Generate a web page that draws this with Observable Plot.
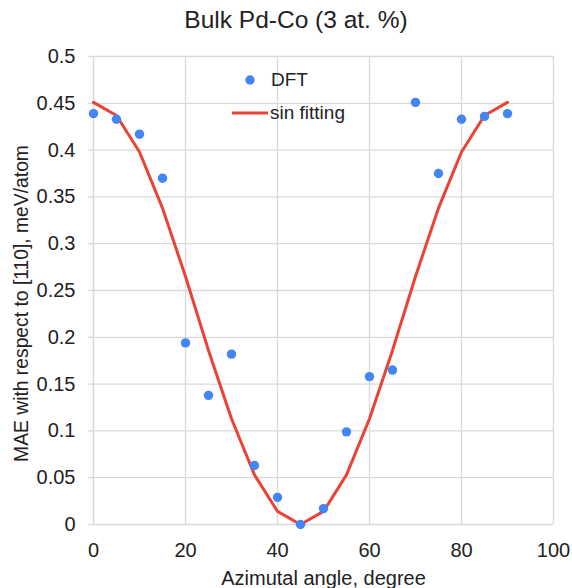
<!DOCTYPE html>
<html>
<head>
<meta charset="utf-8">
<script src="https://cdn.jsdelivr.net/npm/d3@7"></script>
<script src="https://cdn.jsdelivr.net/npm/@observablehq/plot@0.6"></script>
<style>
  html, body { margin: 0; padding: 0; background: #fff; }
  #wrap { position: relative; width: 572px; height: 588px; overflow: hidden; font-family: "Liberation Sans", Arial, sans-serif; color: #222; }
  #title { height: 36px; box-sizing: border-box; padding-top: 8px; padding-left: 20px; font-size: 24.5px; line-height: 24px; text-align: center; white-space: nowrap; }
  #chart svg { overflow: visible; display: block; }
  #legend { position: absolute; left: 0; top: 0; pointer-events: none; }
  #legend .item { position: absolute; font-size: 19px; line-height: 19px; white-space: nowrap; }
</style>
</head>
<body>
<div id="wrap">
  <div id="title"></div>
  <div id="chart"></div>
  <div id="legend"></div>
</div>
<script>
const titleText = "Bulk Pd-Co (3 at. %)";
const xLabel = "Azimutal angle, degree";
const yLabel = "MAE with respect to [110], meV/atom";
const seriesNames = ["DFT", "sin fitting"];
const seriesColors = ["#4285F4", "#EA4335"];

const angles = [0, 5, 10, 15, 20, 25, 30, 35, 40, 45, 50, 55, 60, 65, 70, 75, 80, 85, 90];
const dftValues = [0.439, 0.433, 0.417, 0.370, 0.194, 0.138, 0.182, 0.063, 0.029, 0.000, 0.017, 0.099, 0.158, 0.165, 0.451, 0.375, 0.433, 0.436, 0.439];
const fitValues = [0.451, 0.437, 0.398, 0.338, 0.265, 0.186, 0.113, 0.053, 0.014, 0.000, 0.014, 0.053, 0.113, 0.186, 0.265, 0.338, 0.398, 0.437, 0.451];

const xTicks = [0, 20, 40, 60, 80, 100];
const yTicks = [0, 0.05, 0.1, 0.15, 0.2, 0.25, 0.3, 0.35, 0.4, 0.45, 0.5];
const yTickLabels = ["0", "0.05", "0.1", "0.15", "0.2", "0.25", "0.3", "0.35", "0.4", "0.45", "0.5"];

const dft = angles.map((a, i) => ({angle: a, value: dftValues[i]}));
const fit = angles.map((a, i) => ({angle: a, value: fitValues[i]}));

document.getElementById("title").textContent = titleText;

const gridColor = "#d9d9d9";
const textColor = "#222";

const chart = Plot.plot({
  width: 572,
  height: 552,
  marginLeft: 93,
  marginRight: 19,
  marginTop: 20,
  marginBottom: 64,
  style: {fontFamily: "'Liberation Sans', Arial, sans-serif", background: "#fff", overflow: "visible"},
  x: {domain: [0, 100]},
  y: {domain: [0, 0.5]},
  marks: [
    Plot.gridX({ticks: xTicks, stroke: gridColor, strokeOpacity: 1, strokeWidth: 1.3}),
    Plot.gridY({ticks: yTicks, stroke: gridColor, strokeOpacity: 1, strokeWidth: 1.3}),
    Plot.axisY({ticks: yTicks, tickSize: 5, tickPadding: 13, stroke: gridColor, strokeWidth: 1.3, fill: textColor, fontSize: 20,
      tickFormat: d => yTickLabels[yTicks.indexOf(d)], label: null}),
    Plot.axisX({ticks: xTicks, tickSize: 0, tickPadding: 18, fill: textColor, fontSize: 20, label: null}),
    Plot.ruleX([0], {stroke: gridColor, strokeWidth: 1.3}),
    Plot.line(fit, {x: "angle", y: "value", stroke: seriesColors[1], strokeWidth: 3}),
    Plot.dot(dft, {x: "angle", y: "value", r: 4.7, fill: seriesColors[0], stroke: null}),
    Plot.text([xLabel], {frameAnchor: "bottom", textAnchor: "middle", lineAnchor: "top", dy: 46, fontSize: 20, fill: textColor}),
    Plot.text([yLabel], {frameAnchor: "left", textAnchor: "middle", lineAnchor: "middle", rotate: -90, dx: -72, dy: 13, fontSize: 19.3, fill: textColor})
  ]
});
document.getElementById("chart").appendChild(chart);

// legend (inside plot area, top centre)
const legend = document.getElementById("legend");
legend.innerHTML = `
  <svg width="572" height="140" style="position:absolute;left:0;top:0">
    <circle cx="250" cy="80" r="4.7" fill="${seriesColors[0]}"></circle>
    <line x1="232" x2="268" y1="113" y2="113" stroke="${seriesColors[1]}" stroke-width="3"></line>
  </svg>
  <div class="item" style="left:271px;top:70px">${seriesNames[0]}</div>
  <div class="item" style="left:270px;top:103px">${seriesNames[1]}</div>
`;
</script>
</body>
</html>
